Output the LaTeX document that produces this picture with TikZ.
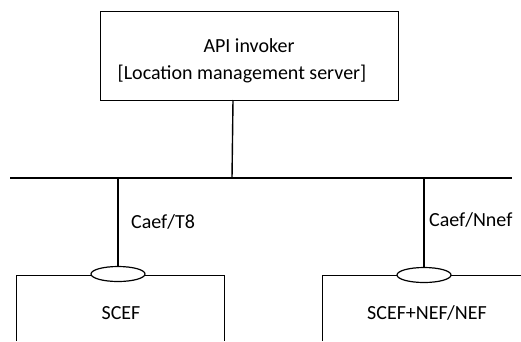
\documentclass[tikz,border=0pt]{standalone}
\usepackage{fontspec}
\setmainfont{Carlito}
\usetikzlibrary{shapes.geometric}
\begin{document}
\begin{tikzpicture}[x=1pt,y=-1pt,
  box/.style={draw,line width=0.8pt},
  lbl/.style={font=\fontsize{20}{24}\selectfont,inner sep=0pt},
  port/.style={draw,ellipse,line width=1.2pt,fill=white,minimum width=54pt,minimum height=15pt,inner sep=0pt},
  link/.style={line width=1.4pt}]
\useasboundingbox (0,0) rectangle (521,341);
% top box
\node[box,minimum width=298pt,minimum height=89pt,anchor=north west] (api) at (100,11) {};
\node[lbl] (t1) at (249,46) {API invoker};
\node[lbl] (t2) at (242,74) {[Location management server]};
% bus
\coordinate (busL) at (10,178);
\coordinate (busR) at (512,178);
\draw[line width=1.8pt] (busL) -- (busR);
\coordinate (apiB) at (233,100);
\coordinate (busA) at (232,178);
\draw[link] (apiB) -- (busA);
% left box
\coordinate (lbBL) at (16,341);
\coordinate (lbTL) at (16,275);
\coordinate (lbTR) at (224,275);
\coordinate (lbBR) at (224,341);
\draw[box] (lbBL) -- (lbTL) -- (lbTR) -- (lbBR);
\node[port] (p1) at (118,274) {};
\coordinate (bus1) at (118,178);
\draw[link] (bus1) -- (p1.north);
\node[lbl,anchor=west] (c1) at (131,222) {Caef/T8};
\node[lbl] (s1) at (121,313) {SCEF};
% right box
\coordinate (rbBL) at (322,341);
\coordinate (rbTL) at (322,275);
\coordinate (rbTR) at (521,275);
\draw[box] (rbBL) -- (rbTL) -- (rbTR);
\node[port] (p2) at (424,275) {};
\coordinate (bus2) at (424,178);
\draw[link] (bus2) -- (p2.north);
\node[lbl,anchor=west] (c2) at (429,220) {Caef/Nnef};
\node[lbl] (s2) at (427,313) {SCEF+NEF/NEF};
\end{tikzpicture}
\end{document}
